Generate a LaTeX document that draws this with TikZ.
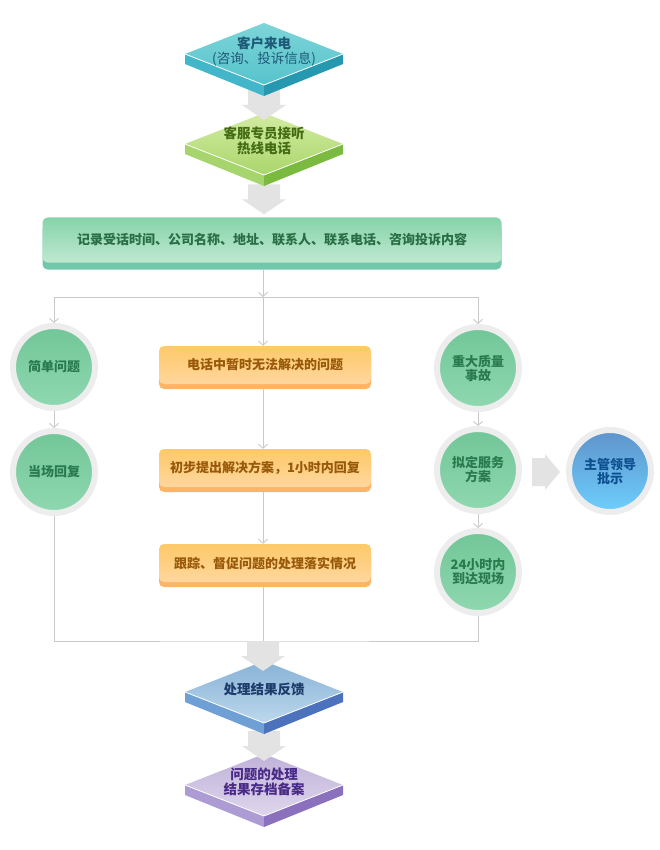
\documentclass[tikz,border=0pt]{standalone}
\usepackage{fontspec}
\setmainfont{Noto Sans CJK SC}
\usetikzlibrary{arrows.meta,shadows,calc}

\definecolor{tqA}{HTML}{7DD5D8}
\definecolor{tqB}{HTML}{56C3CD}
\definecolor{tqL}{HTML}{43B7C9}
\definecolor{tqR}{HTML}{2698AF}
\definecolor{tqT}{HTML}{1E5A78}
\definecolor{limeA}{HTML}{D3EBA2}
\definecolor{limeB}{HTML}{A9D66B}
\definecolor{limeL}{HTML}{A6D46D}
\definecolor{limeR}{HTML}{7ABB3F}
\definecolor{limeT}{HTML}{436C14}
\definecolor{steelA}{HTML}{88B2D6}
\definecolor{steelB}{HTML}{BCD8EC}
\definecolor{steelL}{HTML}{6E9FD5}
\definecolor{steelR}{HTML}{4C72BD}
\definecolor{steelT}{HTML}{1E3C6B}
\definecolor{lilacA}{HTML}{C0B2D9}
\definecolor{lilacB}{HTML}{DED6EC}
\definecolor{lilacL}{HTML}{AD9BD3}
\definecolor{lilacR}{HTML}{8B70BD}
\definecolor{lilacT}{HTML}{4A2A88}
\definecolor{recA}{HTML}{86D3A9}
\definecolor{recB}{HTML}{BFE9D1}
\definecolor{recL}{HTML}{70C7A9}
\definecolor{recT}{HTML}{2A6E46}
\definecolor{orA}{HTML}{FEC968}
\definecolor{orB}{HTML}{FFD69E}
\definecolor{orL}{HTML}{FDB467}
\definecolor{orT}{HTML}{98590A}
\definecolor{gnA}{HTML}{72C698}
\definecolor{gnB}{HTML}{8FD8B0}
\definecolor{gnT}{HTML}{2A7A50}
\definecolor{blA}{HTML}{5E93CB}
\definecolor{blB}{HTML}{6DCFFD}
\definecolor{blT}{HTML}{0D508F}
\definecolor{ring}{HTML}{EDEDED}
\definecolor{linkgray}{HTML}{C9C9C9}
\definecolor{fatgray}{HTML}{E3E3E3}

\tikzset{
  platetext/.style={align=center, yshift=3pt, font=\bfseries\fontsize{13.5}{15}\selectfont},
  recbox/.style={rectangle, rounded corners=5pt, minimum width=459pt, minimum height=45pt,
    top color=recA, bottom color=recB, text=recT, font=\bfseries\fontsize{13}{15}\selectfont,
    general shadow={fill=recL, shadow yshift=-7pt}},
  talkbox/.style={rectangle, rounded corners=5pt, minimum width=212pt, minimum height=38pt,
    top color=orA, bottom color=orB, text=orT, font=\bfseries\fontsize{13}{15}\selectfont,
    general shadow={fill=orL, shadow yshift=-5pt}},
  disc/.style={circle, minimum size=82pt, inner sep=0pt, draw=ring, line width=6pt,
    top color=gnA, bottom color=gnB, text=gnT, align=center,
    font=\bfseries\fontsize{13}{14}\selectfont},
  bluedisc/.style={disc, top color=blA, bottom color=blB, text=blT},
  link/.style={draw=linkgray, line width=0.9pt, -{Straight Barb[length=4pt,width=9pt]}},
  joint/.style={draw=linkgray, line width=0.9pt},
  fatdown/.pic={\fill[fatgray] (-16,0) -- (16,0) -- (16,15) -- (22,15) -- (0,30) -- (-22,15) -- (-16,15) -- cycle;},
  fatright/.pic={\fill[fatgray] (0,-14) -- (13,-14) -- (13,-18) -- (28,0) -- (13,18) -- (13,14) -- (0,14) -- cycle;}
}

% 3d plate: name, centre, colour set, text
\newcommand{\plate}[4]{%
  \begin{scope}[shift={#2}]
    \fill[#3L] (-79,0) -- (0,31) -- (0,42) -- (-79,10) -- cycle;
    \fill[#3R] (79,0) -- (0,31) -- (0,42) -- (79,10) -- cycle;
    \shade[top color=#3A, bottom color=#3B] (-79,0) -- (0,-31) -- (79,0) -- (0,31) -- cycle;
    \draw[white, line width=0.8pt] (-79,0) -- (0,31) -- (79,0);
  \end{scope}
  \node[platetext, text=#3T] (#1) at #2 {#4};}

\begin{document}
\begin{tikzpicture}[x=1pt,y=-1pt]
\useasboundingbox (0,0) rectangle (660,850);

% top part
\node[recbox] (record) at (272,240) {记录受话时间、公司名称、地址、联系人、联系电话、咨询投诉内容};
\pic at ($(record.north)+(-8,-33)$) {fatdown};
\plate{staff}{(264,144)}{lime}{客服专员接听\\热线电话}
\pic at ($(staff)+(0,-51)$) {fatdown};
\plate{call}{(264,54)}{tq}{客户来电\\\mdseries(咨询、投诉信息)}

% three branches
\node[disc] (simple) at (54,367) {简单问题};
\node[disc] (onsite) at (54,472) {当场回复};
\node[talkbox] (talk) at (265,365) {电话中暂时无法解决的问题};
\node[talkbox] (plan) at (265,468) {初步提出解决方案，1小时内回复};
\node[talkbox] (track) at (265,563) {跟踪、督促问题的处理落实情况};
\node[disc] (major) at (478,368) {重大质量\\事故};
\node[disc] (draft) at (478,470) {拟定服务\\方案};
\node[disc] (arrive) at (478,572) {24小时内\\到达现场};
\node[bluedisc] (leader) at (610,471) {主管领导\\批示};
\pic at ($(draft.east)+(10,2)$) {fatright};

\coordinate (hub) at (263,297);
\draw[link] ($(record.south -| hub)+(0,7)$) -- (hub);
\draw[link] (hub) -| (simple);
\draw[link] (hub) -| (major);
\draw[link] (hub) -- (talk.north -| hub);
\draw[link] (simple) -- (onsite);
\draw[link] ($(talk.south -| hub)+(0,5)$) -- (plan.north -| hub);
\draw[link] ($(plan.south -| hub)+(0,5)$) -- (track.north -| hub);
\draw[link] (major) -- (draft);
\draw[link] (draft) -- (arrive);

% bottom part
\coordinate (merge) at (263,641);
\draw[joint] (onsite) |- (merge) -| (arrive);
\draw[joint] ($(track.south -| merge)+(0,5)$) -- (merge);
\plate{archive}{(264,785)}{lilac}{问题的处理\\结果存档备案}
\pic at (264,731) {fatdown};
\plate{feedback}{(264,692)}{steel}{处理结果反馈}
\pic at (merge) {fatdown};
\end{tikzpicture}
\end{document}
